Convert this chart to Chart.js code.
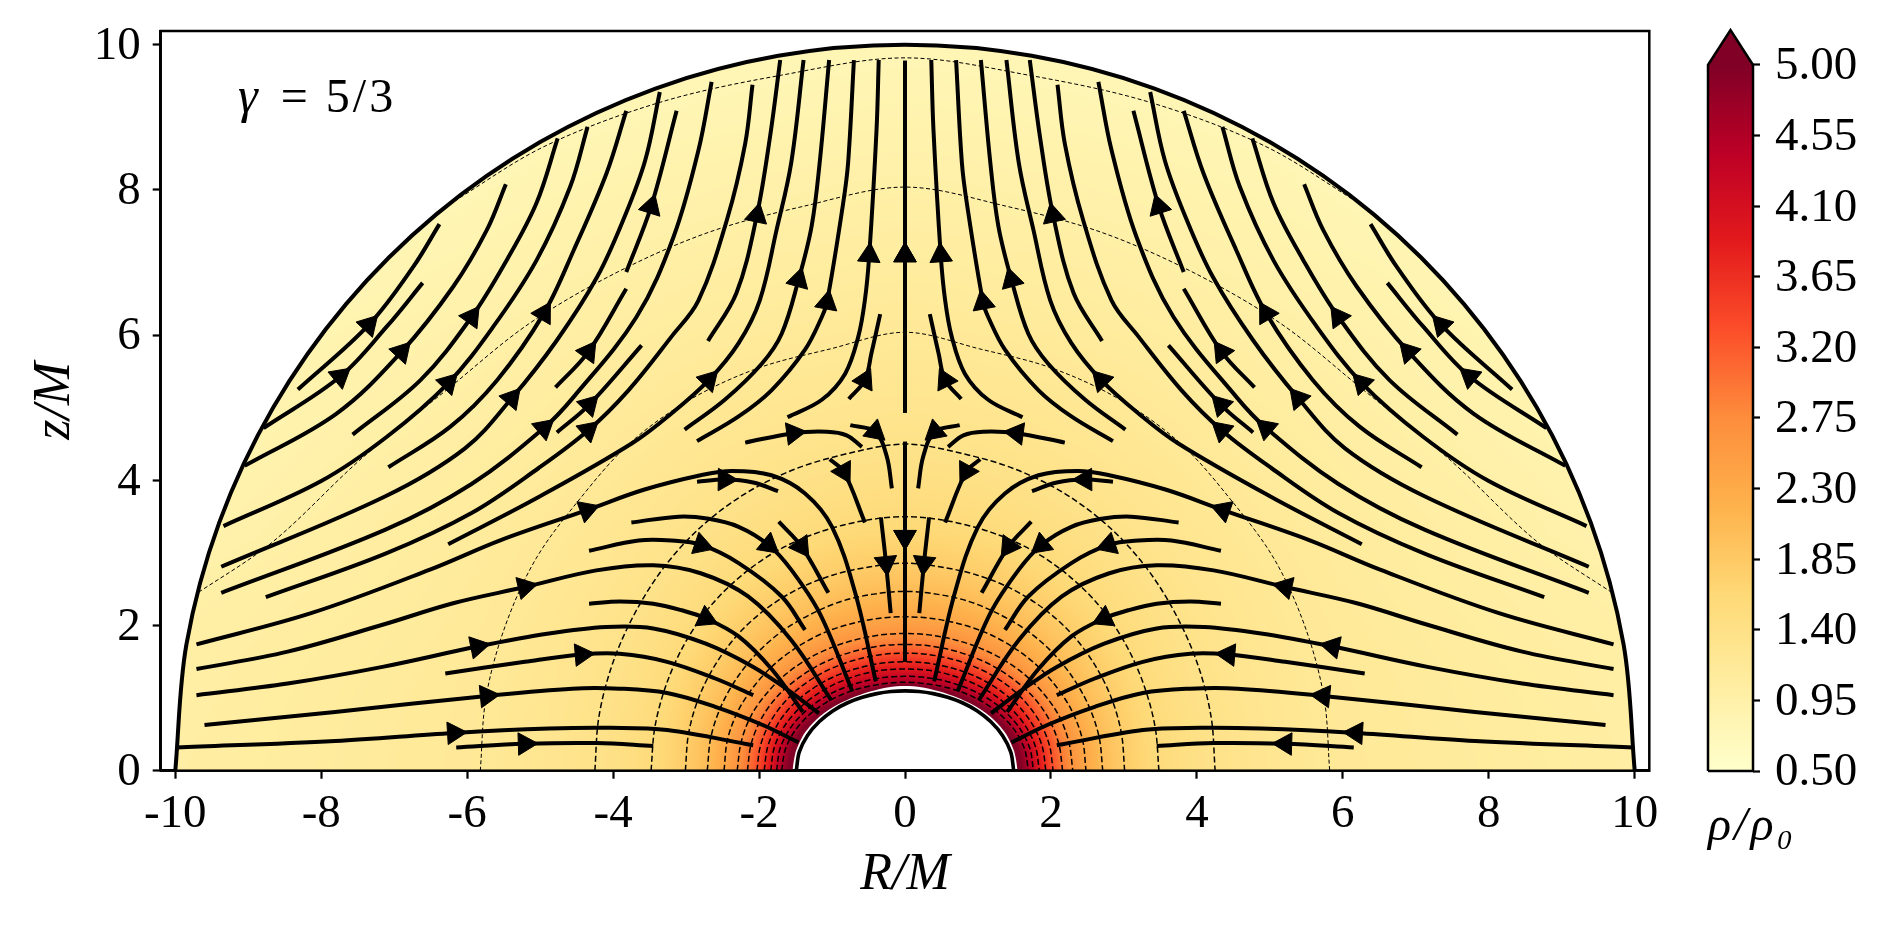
<!DOCTYPE html>
<html lang="en">
<head>
<meta charset="UTF-8" />
<title>Density and streamlines, gamma = 5/3</title>
<script src="https://cdn.jsdelivr.net/npm/chart.js"></script>
<style>
  html, body { margin: 0; padding: 0; background: #fff; overflow: hidden; }
  #main { position: absolute; left: 0; top: 0; }
  #bar { position: absolute; left: 1660px; top: 0; }
</style>
</head>
<body>
<canvas id="main" width="1887" height="927"></canvas>
<canvas id="bar" width="227" height="927"></canvas>
<script>
// axis ticks
const rTicks = [-10, -8, -6, -4, -2, 0, 2, 4, 6, 8, 10];
const zTicks = [0, 2, 4, 6, 8, 10];
const colorbarTicks = [0.5, 0.95, 1.4, 1.85, 2.3, 2.75, 3.2, 3.65, 4.1, 4.55, 5];

// YlOrRd stops, evenly spaced from 0.5 to 5
const colormap = [[255,255,204],[255,237,160],[254,217,118],[254,178,76],[253,141,60],[252,78,42],[227,26,28],[189,0,38],[128,0,38]];

// colorbar outline, the tip stands above 5
const colorbarX = [0, 0, 0.5, 1, 1, 0];
const colorbarY = [0.5, 5, 5.223, 5, 0.5, 0.5];

// density contours: radius read at each polar angle (deg from the equator), inside to outside
const thetas = [0, 10, 20, 30, 40, 50, 60, 70, 80, 90];
const edgeRadius = [1.54, 1.52, 1.475, 1.405, 1.33, 1.26, 1.21, 1.18, 1.17, 1.167];
const edgeLevel = 5.2;
const horizonRadius = [1.49, 1.472, 1.422, 1.355, 1.287, 1.222, 1.168, 1.13, 1.108, 1.10];
const outerRadius = [10, 10, 10, 10, 10, 10, 10, 10, 10, 10];
const contourLevels = [4.6, 4.3, 3.95, 3.65, 3.3, 2.95, 2.65, 2.35, 2.05, 1.8, 1.55, 1.35, 1.18, 0.97, 0.8];
const contourRadii = [
  [1.69, 1.667, 1.606, 1.524, 1.44, 1.362, 1.30, 1.252, 1.225, 1.22],
  [1.76, 1.739, 1.68, 1.60, 1.518, 1.442, 1.38, 1.336, 1.31, 1.30],
  [1.84, 1.82, 1.765, 1.69, 1.61, 1.54, 1.48, 1.44, 1.413, 1.40],
  [1.93, 1.91, 1.86, 1.79, 1.71, 1.64, 1.58, 1.535, 1.51, 1.50],
  [2.03, 2.01, 1.965, 1.90, 1.83, 1.76, 1.70, 1.655, 1.63, 1.62],
  [2.16, 2.14, 2.095, 2.03, 1.95, 1.88, 1.82, 1.776, 1.75, 1.74],
  [2.30, 2.28, 2.24, 2.17, 2.10, 2.03, 1.97, 1.925, 1.90, 1.89],
  [2.48, 2.47, 2.43, 2.37, 2.31, 2.25, 2.20, 2.155, 2.13, 2.12],
  [2.71, 2.70, 2.67, 2.63, 2.59, 2.55, 2.51, 2.49, 2.47, 2.47],
  [3.01, 3.01, 3.00, 2.98, 2.96, 2.93, 2.90, 2.87, 2.85, 2.86],
  [3.48, 3.48, 3.48, 3.49, 3.50, 3.50, 3.50, 3.49, 3.49, 3.50],
  [4.25, 4.26, 4.27, 4.29, 4.33, 4.37, 4.40, 4.42, 4.44, 4.50],
  [5.82, 5.83, 5.83, 5.84, 5.82, 5.88, 5.90, 5.90, 5.90, 6.04],
  [11.5, 10.6, 9.22, 8.6, 8.18, 8.03, 7.92, 7.89, 7.9, 8.04],
  [12.5, 12, 11.5, 11, 10.6, 10.03, 9.92, 9.80, 9.73, 9.82]
];

// streamlines in flow order, |R| and z (the plot is mirrored about R = 0)
const streamR = [
  [6.15,5.21,4.23,3.45],
  [9.98,7.81,6.18,4.88,4.04,3.26,2.08],
  [9.60,7.81,5.73,4.56,3.91,3.26,2.60,1.95,1.46],
  [6.30,5.21,4.43,3.91,3.26,2.60,2.08],
  [9.71,8.46,7.16,5.86,4.88,4.10,3.45,2.73,2.08,1.63,1.18],
  [4.33,3.91,3.45,3.06,2.73,2.28,1.82,1.40],
  [9.71,8.46,7.16,6.18,5.21,4.23,3.45,2.80,2.15,1.56,1.01],
  [4.33,3.65,3.20,2.79,2.28,1.69,1.37],
  [3.75,3.10,2.69,2.28,1.87,1.56,1.17,0.72],
  [1.73,1.42,1.05],
  [9.71,8.14,6.51,5.53,4.36,3.58,2.80,2.37,1.83,1.37,1.00,0.68,0.40],
  [2.85,2.47,2.08,1.74],
  [1.03,0.84,0.55],
  [0.33,0.26,0.196],
  [0,0,0],
  [0.75,0.41,0.25,0.18],
  [2.19,1.53,1.07,0.80,0.59],
  [0,0,0],
  [1.61,1.14,0.82,0.64,0.55,0.49,0.39,0.36],
  [0.77,0.55,0.46,0.34],
  [2.85,2.28,1.83,1.37,1.14,1.07,0.85,0.78,0.70],
  [3.02,2.47,1.96,1.69,1.46,1.28,1.17,1.04],
  [6.26,5.02,3.74,3.20,2.69,2.28,1.99,1.76,1.56,1.39],
  [2.70,2.31,2.03,1.85,1.71],
  [8.76,7.12,5.94,5.02,4.34,3.79,3.20,2.83,2.44,2.19,2.09],
  [3.82,3.48,3.13],
  [4.77,4.33,3.61],
  [4.79,4.34,3.82],
  [9.37,7.12,5.94,4.95,4.54,3.68,3.17,2.83,2.65],
  [9.37,7.12,6.03,5.39,4.77,4.22,3.86,3.56,3.36],
  [7.08,6.23,5.59,4.95,4.54,4.09,3.82],
  [9.34,8.00,7.10,6.26,5.64,5.05,4.59,4.35],
  [7.57,6.64,5.94,5.46,5.05,4.76],
  [9.05,7.79,6.90,6.19,5.73,5.47],
  [8.32,7.35,6.74,6.38],
  [8.79,7.74,7.10,6.61]
];
const streamZ = [
  [0.32,0.37,0.38,0.34],
  [0.32,0.41,0.52,0.58,0.59,0.56,0.35],
  [0.63,0.81,1.03,1.13,1.13,1.07,0.88,0.63,0.39],
  [1.34,1.50,1.60,1.61,1.50,1.27,1.04],
  [1.04,1.20,1.43,1.71,1.89,1.98,1.96,1.75,1.43,1.13,0.79],
  [2.30,2.33,2.30,2.21,2.10,1.85,1.39,0.81],
  [1.40,1.64,2.01,2.31,2.53,2.76,2.83,2.72,2.40,1.80,0.97],
  [3.03,3.17,3.17,3.11,2.86,2.40,1.94],
  [3.42,3.50,3.47,3.36,3.11,2.77,2.17,1.09],
  [3.43,3.09,2.45],
  [1.74,2.17,2.77,3.18,3.59,3.87,4.07,4.13,4.07,3.82,3.36,2.44,1.23],
  [3.98,4.01,3.97,3.85],
  [4.29,4.12,3.42],
  [3.49,2.86,2.17],
  [4.53,3.22,1.50],
  [4.76,4.67,4.33,3.89],
  [4.52,4.65,4.67,4.62,4.46],
  [4.93,7.10,9.78],
  [4.87,5.11,5.47,5.98,6.48,7.10,8.83,9.79],
  [5.12,5.38,5.75,6.29],
  [4.54,4.88,5.24,5.80,6.25,6.45,7.80,8.37,9.79],
  [4.70,5.11,5.61,6.02,6.76,7.50,8.37,9.79],
  [3.12,3.77,4.51,4.92,5.38,5.89,6.48,7.45,8.37,9.79],
  [5.92,6.58,7.65,8.73,9.79],
  [2.39,2.99,3.55,4.17,4.69,5.24,5.98,6.48,7.59,8.64,9.45],
  [6.87,7.77,9.09],
  [4.66,5.04,5.86],
  [5.28,5.77,6.64],
  [2.45,3.32,3.95,4.72,5.15,6.25,7.36,8.55,9.49],
  [2.81,3.78,4.44,5.13,5.93,6.80,7.59,8.41,9.35],
  [4.18,4.74,5.38,6.30,7.17,8.23,9.09],
  [3.37,3.99,4.60,5.34,6.12,7.03,8.04,8.87],
  [4.63,5.38,6.25,7.03,7.82,8.71],
  [4.20,4.92,5.77,6.67,7.45,8.08],
  [5.25,6.14,6.94,7.53],
  [4.72,5.43,6.12,6.72]
];
// which vertex of each streamline carries its arrow head
const arrowIndex = [1,2,2,2,3,4,4,3,4,1,4,1,1,1,1,1,1,1,5,1,5,4,4,2,4,1,1,1,3,3,3,3,2,2,1,1];

const RAD = Math.PI / 180;
const SERIF = '"Liberation Serif", serif';

function polarPoints(radii, sign) {
  return thetas.map((t, i) => ({ x: sign * radii[i] * Math.cos(t * RAD), y: radii[i] * Math.sin(t * RAD) }));
}
function fullArc(radii) {
  return polarPoints(radii, -1).concat(polarPoints(radii, 1).reverse().slice(1));
}
function radiusAt(radii, deg) {
  const p = Math.min(deg / 10, 8.9999), i = Math.floor(p);
  return radii[i] + (radii[i + 1] - radii[i]) * (p - i);
}
function rhoColor(rho) {
  const p = Math.max(0, Math.min(0.99999, (rho - 0.5) / 4.5)) * (colormap.length - 1);
  const i = Math.floor(p), f = p - i;
  return colormap[i].map((c, k) => c + (colormap[i + 1][k] - c) * f);
}

// density field, painted once per canvas pixel through the chart's scales
let fieldCanvas = null;
function buildField(chart) {
  const { x, y } = chart.scales;
  const W = chart.canvas.width, H = chart.canvas.height, dpr = W / chart.width;
  fieldCanvas = document.createElement('canvas');
  fieldCanvas.width = W; fieldCanvas.height = H;
  const c = fieldCanvas.getContext('2d');
  const img = c.createImageData(W, H);
  const pxPerUnit = Math.abs(x.getPixelForValue(1) - x.getPixelForValue(0));
  const rows = [edgeRadius].concat(contourRadii);
  const levels = [edgeLevel].concat(contourLevels);
  for (let py = 0; py < H; py++) {
    const zv = y.getValueForPixel((py + 0.5) / dpr);
    if (zv < 0) continue;
    for (let px = 0; px < W; px++) {
      const rv = x.getValueForPixel((px + 0.5) / dpr);
      const r = Math.hypot(rv, zv);
      if (r > 10.2) continue;
      const deg = Math.atan2(zv, Math.abs(rv)) / RAD;
      const inner = radiusAt(edgeRadius, deg);
      const alpha = Math.min(1, (r - inner) * pxPerUnit + 0.5);
      if (alpha <= 0 || r > 10) continue;
      let rho = levels[levels.length - 1], prev = inner;
      for (let k = 1; k < rows.length; k++) {
        const cur = radiusAt(rows[k], deg);
        if (r < cur) {
          rho = levels[k - 1] + (levels[k] - levels[k - 1]) * (r - prev) / (cur - prev);
          break;
        }
        prev = cur;
      }
      const col = rhoColor(rho), o = (py * W + px) * 4;
      img.data[o] = col[0]; img.data[o + 1] = col[1]; img.data[o + 2] = col[2];
      img.data[o + 3] = Math.max(0, alpha) * 255;
    }
  }
  c.putImageData(img, 0, 0);
}

const fieldPlugin = {
  id: 'field',
  beforeDatasetsDraw(chart) {
    if (!fieldCanvas) buildField(chart);
    chart.ctx.drawImage(fieldCanvas, 0, 0, chart.width, chart.height);
  },
  beforeDatasetDraw(chart, args) {
    // contours stop at the outer circle
    if (!chart.data.datasets[args.index].clipDisk) return;
    const { x, y } = chart.scales, ctx = chart.ctx;
    ctx.save();
    ctx.beginPath();
    ctx.ellipse(x.getPixelForValue(0), y.getPixelForValue(0),
      x.getPixelForValue(10) - x.getPixelForValue(0), y.getPixelForValue(0) - y.getPixelForValue(10), 0, 0, Math.PI * 2);
    ctx.clip();
  },
  afterDatasetDraw(chart, args) {
    if (chart.data.datasets[args.index].clipDisk) chart.ctx.restore();
  },
  afterDraw(chart) {
    const { x, y } = chart.scales, ctx = chart.ctx, a = chart.chartArea;
    ctx.save();
    ctx.strokeStyle = '#000';
    ctx.lineWidth = 2.5;
    ctx.strokeRect(a.left, a.top, a.right - a.left, a.bottom - a.top);
    ctx.fillStyle = '#000';
    ctx.textBaseline = 'alphabetic';
    ctx.font = 'italic 50px ' + SERIF;
    ctx.fillText('γ', x.getPixelForValue(-9.14), y.getPixelForValue(9.07));
    ctx.font = '48px ' + SERIF;
    ctx.letterSpacing = '3px';
    ctx.fillText(' = 5/3', x.getPixelForValue(-8.76), y.getPixelForValue(9.07));
    ctx.restore();
  }
};

const barLabelPlugin = {
  id: 'barLabel',
  afterDraw(chart) {
    const ctx = chart.ctx;
    ctx.save();
    ctx.fillStyle = '#000';
    ctx.font = 'italic 48px ' + SERIF;
    ctx.letterSpacing = '3px';
    ctx.textBaseline = 'alphabetic';
    ctx.fillText('ρ/ρ₀', chart.chartArea.left, 840);
    ctx.restore();
  }
};

// datasets
const datasets = [];
contourRadii.forEach((radii, i) => {
  datasets.push({
    data: fullArc(radii), showLine: true, pointRadius: 0, tension: 0.33, clipDisk: true,
    borderColor: '#000', borderWidth: i > 11 ? 1 : 1.5, borderDash: i > 11 ? [4, 2.5] : [6, 3], order: 4
  });
});
[-1, 1].forEach(sign => {
  const heads = [], rotations = [];
  streamR.forEach((rs, i) => {
    const zs = streamZ[i], k = arrowIndex[i];
    datasets.push({
      data: rs.map((r, j) => ({ x: sign * r, y: zs[j] })), showLine: true, pointRadius: 0, tension: 0.36,
      borderColor: '#000', borderWidth: 4, order: 2
    });
    heads.push({ x: sign * rs[k], y: zs[k] });
    const dR = rs[Math.min(k + 1, rs.length - 1)] - rs[k - 1], dZ = zs[Math.min(k + 1, rs.length - 1)] - zs[k - 1];
    rotations.push(Math.atan2(sign * dR, dZ) / RAD);
  });
  datasets.push({
    data: heads, showLine: false, pointStyle: 'triangle', pointRadius: 13, pointRotation: rotations,
    pointBackgroundColor: '#000', pointBorderColor: '#000', pointBorderWidth: 1, order: 1
  });
});
datasets.push({ data: fullArc(outerRadius), showLine: true, pointRadius: 0, tension: 0.33, borderColor: '#000', borderWidth: 4, order: 3, clip: false });
datasets.push({ data: fullArc(horizonRadius), showLine: true, pointRadius: 0, tension: 0.33, borderColor: '#000', borderWidth: 3.6, order: 3 });

function axisTicks(values) {
  return scale => { scale.ticks = values.map(v => ({ value: v })); };
}
const tickFont = { family: SERIF, size: 47 };
const titleFont = { family: SERIF, size: 52, style: 'italic' };

new Chart(document.getElementById('main'), {
  type: 'scatter',
  data: { datasets },
  plugins: [fieldPlugin],
  options: {
    responsive: false, animation: false, devicePixelRatio: 1,
    layout: { padding: { top: 31, right: 237.7, left: 0, bottom: 0 } },
    plugins: { legend: { display: false }, tooltip: { enabled: false } },
    scales: {
      x: {
        type: 'linear', min: -10.2, max: 10.2,
        afterBuildTicks: axisTicks(rTicks),
        afterFit: s => { s.height = 156.3; s.paddingLeft = 0; s.paddingRight = 0; },
        grid: { drawOnChartArea: false, tickLength: 8, tickWidth: 2.2, tickColor: '#000' },
        border: { color: '#000', width: 2.5 },
        ticks: { color: '#000', font: tickFont, padding: 8, maxRotation: 0, autoSkip: false, callback: v => String(v) },
        title: { display: true, text: 'R/M', color: '#000', font: titleFont, padding: { bottom: 20, top: 0 } }
      },
      y: {
        type: 'linear', min: 0, max: 10.19,
        afterBuildTicks: axisTicks(zTicks),
        afterFit: s => { s.width = 160.7; s.paddingTop = 0; s.paddingBottom = 0; },
        grid: { drawOnChartArea: false, tickLength: 8, tickWidth: 2.2, tickColor: '#000' },
        border: { color: '#000', width: 2.5 },
        ticks: { color: '#000', font: tickFont, padding: 12, labelOffset: 2, autoSkip: false, callback: v => String(v) },
        title: { display: true, text: 'z/M', color: '#000', font: titleFont, padding: { top: 24, bottom: 0 } }
      }
    }
  }
});

// colorbar
function barGradient(context) {
  const chart = context.chart;
  if (!chart.chartArea) return '#fff';
  const y = chart.scales.y;
  const g = chart.ctx.createLinearGradient(0, y.getPixelForValue(0.5), 0, y.getPixelForValue(5));
  colormap.forEach((c, i) => g.addColorStop(i / (colormap.length - 1), 'rgb(' + c.join(',') + ')'));
  return g;
}
new Chart(document.getElementById('bar'), {
  type: 'scatter',
  data: {
    datasets: [{
      data: colorbarX.map((v, i) => ({ x: v, y: colorbarY[i] })),
      showLine: true, pointRadius: 0, fill: 'shape', backgroundColor: barGradient,
      borderColor: '#000', borderWidth: 2.5, clip: false
    }]
  },
  plugins: [barLabelPlugin],
  options: {
    responsive: false, animation: false, devicePixelRatio: 1,
    layout: { padding: { left: 48, top: 30, right: 0, bottom: 0 } },
    plugins: { legend: { display: false }, tooltip: { enabled: false } },
    scales: {
      x: {
        type: 'linear', min: 0, max: 1,
        afterBuildTicks: s => { s.ticks = []; },
        afterFit: s => { s.height = 156; s.paddingLeft = 0; s.paddingRight = 0; },
        grid: { display: false }, border: { display: false },
        ticks: { display: false }
      },
      y: {
        type: 'linear', position: 'right', min: 0.5, max: 5.223,
        afterBuildTicks: axisTicks(colorbarTicks),
        afterFit: s => { s.width = 134; s.paddingTop = 0; s.paddingBottom = 0; },
        grid: { drawOnChartArea: false, tickLength: 7, tickWidth: 2.2, tickColor: '#000' },
        border: { display: false },
        ticks: { color: '#000', font: tickFont, padding: 15, labelOffset: 2, autoSkip: false, callback: v => v.toFixed(2) }
      }
    }
  }
});
</script>
</body>
</html>
